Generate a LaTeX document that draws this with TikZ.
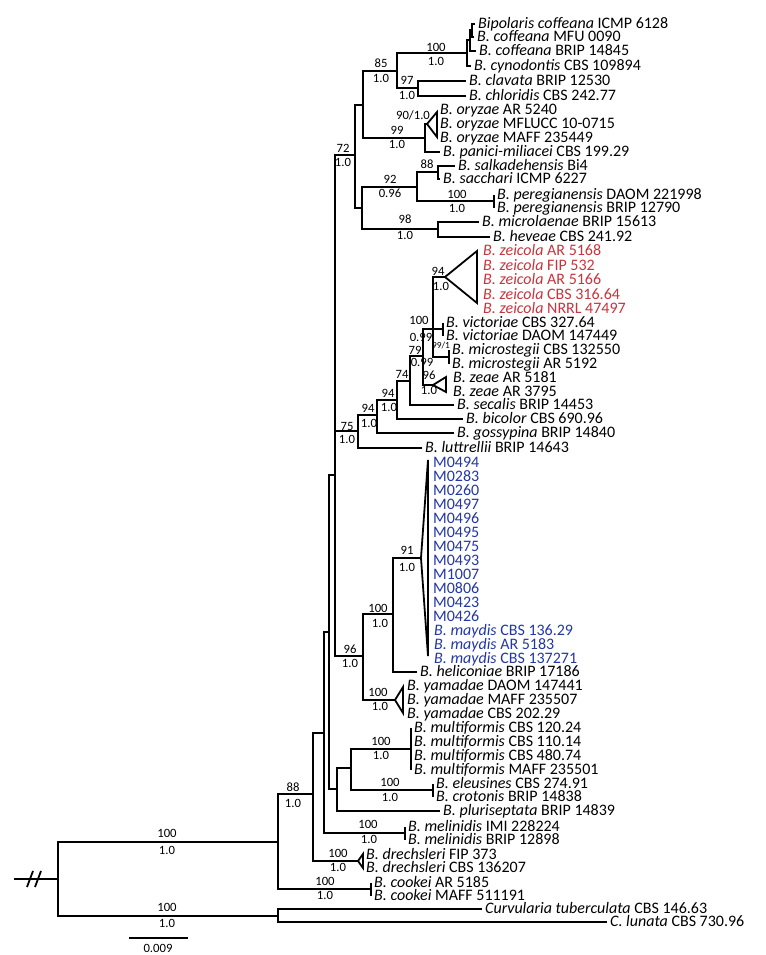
\documentclass[tikz,border=0pt]{standalone}
\usepackage{fontspec}
\setmainfont{Carlito}
\definecolor{zeired}{RGB}{200,52,62}
\definecolor{maydblue}{RGB}{35,55,165}
\tikzset{every picture/.style={line width=0.75pt},
  branch/.style={line width=1.35pt},
  leaf/.style={anchor=west,inner xsep=2pt,inner ysep=0.5pt,text height=7.4pt,text depth=0pt,font=\fontsize{12}{12}\selectfont},
  supp/.style={inner sep=0.5pt,text height=6pt,text depth=0pt,font=\fontsize{9.5}{10}\selectfont},
}

\begin{document}
\begin{tikzpicture}[x=0.75pt,y=0.75pt,yscale=-1,xscale=1]
\useasboundingbox (0,0) rectangle (765,955);

%Internal nodes
\coordinate (nRoot) at (58,879);
\coordinate (nIng) at (278,842);
\coordinate (nOut) at (278,916);
\coordinate (nC) at (313,794);
\coordinate (nD) at (324,733);
\coordinate (nE) at (329,632);
\coordinate (nN) at (335,475);
\coordinate (nF) at (355,155);
\coordinate (nH) at (363,105);
\coordinate (nI) at (397,71);
\coordinate (nJ) at (467,53);
\coordinate (nK) at (470,40);
\coordinate (nL) at (472,30);
\coordinate (nClav) at (418,88);
\coordinate (nM) at (425,138);
\coordinate (nG) at (362,208);
\coordinate (nQ) at (417,187);
\coordinate (nSS) at (438,172);
\coordinate (nPer) at (494,201);
\coordinate (nMH) at (438,229);
\coordinate (nO) at (358,431);
\coordinate (nW) at (377,415);
\coordinate (nX) at (397,400);
\coordinate (nY) at (410,381);
\coordinate (nZ) at (423,356);
\coordinate (nAB) at (433,329);
\coordinate (nVic) at (443,329);
\coordinate (nMs) at (449,357);
\coordinate (nR) at (363,656);
\coordinate (nU) at (393,614);
\coordinate (nP) at (337,789);
\coordinate (nS) at (351,768);
\coordinate (nMult) at (411,749);
\coordinate (nEle) at (433,790);
\coordinate (nMel) at (405,833);
\coordinate (nCoo) at (371,889);
%Collapsed clades
\coordinate (oryApex) at (427,124); \coordinate (oryTop) at (437,112); \coordinate (oryBot) at (437,137);
\coordinate (zeiApex) at (445,277); \coordinate (zeiTop) at (477,251); \coordinate (zeiBot) at (477,303);
\coordinate (zeaApex) at (433,385); \coordinate (zeaTop) at (446,377); \coordinate (zeaBot) at (446,392);
\coordinate (mayApex) at (421,558); \coordinate (mayTop) at (428,460); \coordinate (mayBot) at (428,656);
\coordinate (yamApex) at (395,700); \coordinate (yamTop) at (403,687); \coordinate (yamBot) at (403,713);
\coordinate (dreApex) at (358,861); \coordinate (dreTop) at (363,854); \coordinate (dreBot) at (363,868);
\coordinate (brk) at (14,879);

% Text Node (taxa)
\node[leaf] (coffA) at (475,24) {\textit{Bipolaris coffeana} ICMP 6128};
\node[leaf] (coffB) at (474,37) {\textit{B. coffeana} MFU 0090};
\node[leaf] (coffC) at (476,51) {\textit{B. coffeana} BRIP 14845};
\node[leaf] (cyno) at (471,66) {\textit{B. cynodontis} CBS 109894};
\node[leaf] (clav) at (466,81) {\textit{B. clavata} BRIP 12530};
\node[leaf] (chlo) at (466,96) {\textit{B. chloridis} CBS 242.77};
\foreach \s [count=\k from 0] in {AR 5240,MFLUCC 10-0715,MAFF 235449}
  \node[leaf] (ory\k) at (437,{110+14*\k}) {\textit{B. oryzae} \s};
\node[leaf] (pani) at (440,152) {\textit{B. panici-miliacei} CBS 199.29};
\node[leaf] (salk) at (455,166) {\textit{B. salkadehensis} Bi4};
\node[leaf] (sacc) at (440,179) {\textit{B. sacchari} ICMP 6227};
\node[leaf] (perA) at (494,195) {\textit{B. peregianensis} DAOM 221998};
\node[leaf] (perB) at (494,208) {\textit{B. peregianensis} BRIP 12790};
\node[leaf] (micr) at (479,222) {\textit{B. microlaenae} BRIP 15613};
\node[leaf] (heve) at (490,237) {\textit{B. heveae} CBS 241.92};
\foreach \s [count=\k from 0] in {AR 5168,FIP 532,AR 5166,CBS 316.64,NRRL 47497}
  \node[leaf,text=zeired] (zei\k) at (480,{251+14.5*\k}) {\textit{B. zeicola} \s};
\node[leaf] (vicA) at (443,323) {\textit{B. victoriae} CBS 327.64};
\node[leaf] (vicB) at (443,336) {\textit{B. victoriae} DAOM 147449};
\node[leaf] (msA) at (449,350) {\textit{B. microstegii} CBS 132550};
\node[leaf] (msB) at (449,364) {\textit{B. microstegii} AR 5192};
\node[leaf] (zeaA) at (450,378) {\textit{B. zeae} AR 5181};
\node[leaf] (zeaB) at (450,392) {\textit{B. zeae} AR 3795};
\node[leaf] (seca) at (454,405) {\textit{B. secalis} BRIP 14453};
\node[leaf] (bico) at (463,419) {\textit{B. bicolor} CBS 690.96};
\node[leaf] (goss) at (454,433) {\textit{B. gossypina} BRIP 14840};
\node[leaf] (lutt) at (422,448) {\textit{B. luttrellii} BRIP 14643};
\foreach \m [count=\k from 0] in {M0494,M0283,M0260,M0497,M0496,M0495,M0475,M0493,M1007,M0806,M0423,M0426}
  \node[leaf,text=maydblue] (m\m) at (430,{463+14*\k}) {\m};
\foreach \s [count=\k from 0] in {CBS 136.29,AR 5183,CBS 137271}
  \node[leaf,text=maydblue] (may\k) at (431,{631+14*\k}) {\textit{B. maydis} \s};
\node[leaf] (heli) at (417,672) {\textit{B. heliconiae} BRIP 17186};
\foreach \s [count=\k from 0] in {DAOM 147441,MAFF 235507,CBS 202.29}
  \node[leaf] (yam\k) at (404,{686+14*\k}) {\textit{B. yamadae} \s};
\foreach \s [count=\k from 0] in {CBS 120.24,CBS 110.14,CBS 480.74,MAFF 235501}
  \node[leaf] (mult\k) at (411,{728+14*\k}) {\textit{B. multiformis} \s};
\node[leaf] (eleu) at (433,784) {\textit{B. eleusines} CBS 274.91};
\node[leaf] (crot) at (433,797) {\textit{B. crotonis} BRIP 14838};
\node[leaf] (plur) at (440,811) {\textit{B. pluriseptata} BRIP 14839};
\node[leaf] (melA) at (405,827) {\textit{B. melinidis} IMI 228224};
\node[leaf] (melB) at (405,840) {\textit{B. melinidis} BRIP 12898};
\node[leaf] (dreA) at (363,855) {\textit{B. drechsleri} FIP 373};
\node[leaf] (dreB) at (363,868) {\textit{B. drechsleri} CBS 136207};
\node[leaf] (cooA) at (371,883) {\textit{B. cookei} AR 5185};
\node[leaf] (cooB) at (371,896) {\textit{B. cookei} MAFF 511191};
\node[leaf] (curv) at (482,909) {\textit{Curvularia tuberculata} CBS 146.63};
\node[leaf] (luna) at (607,922) {\textit{C. lunata} CBS 730.96};

%Branches
\draw[branch] (brk) -- (nRoot);
\draw[branch] (27,887) -- (33,871) (35,887) -- (41,871);
\draw[branch] (nRoot) |- (nIng) (nRoot) |- (nOut);
\draw[branch] (nOut) |- (curv.west) (nOut) |- (luna.west);
\draw[branch] (nIng) |- (nC) (nIng) |- (nCoo);
\draw[branch] (nCoo) |- (cooA.west) (nCoo) |- (cooB.west);
\draw[branch] (nC) |- (nD) (nC) |- (dreApex);
\draw[branch] (nD) |- (nE) (nD) |- (nMel);
\draw[branch] (nMel) |- (melA.west) (nMel) |- (melB.west);
\draw[branch] (nE) |- (nN) (nE) |- (nP);
\draw[branch] (nP) |- (nS) (nP) |- (plur.west);
\draw[branch] (nS) |- (nMult) (nS) |- (nEle);
\foreach \k in {0,...,3} \draw[branch] (nMult) |- (mult\k.west);
\draw[branch] (nEle) |- (eleu.west) (nEle) |- (crot.west);
\draw[branch] (nN) |- (nF) (nN) |- (nO) (nN) |- (nR);
%72 clade
\draw[branch] (nF) |- (nH) (nF) |- (nG);
\draw[branch] (nH) |- (nI) (nH) |- (nM);
\draw[branch] (nI) |- (nJ) (nI) |- (nClav);
\draw[branch] (nJ) |- (nK) (nJ) |- (cyno.west);
\draw[branch] (nK) |- (nL) (nK) |- (coffC.west);
\draw[branch] (nL) |- (coffA.west) (nL) |- (coffB.west);
\draw[branch] (nClav) |- (clav.west) (nClav) |- (chlo.west);
\draw[branch] (nM) |- (oryApex) (nM) |- (pani.west);
\draw[branch] (nG) |- (nQ) (nG) |- (nMH);
\draw[branch] (nQ) |- (nSS) (nQ) |- (nPer);
\draw[branch] (nSS) |- (salk.west) (nSS) |- (sacc.west);
\draw[branch] (nPer) |- (perA.west) (nPer) |- (perB.west);
\draw[branch] (nMH) |- (micr.west) (nMH) |- (heve.west);
%75 clade
\draw[branch] (nO) |- (nW) (nO) |- (lutt.west);
\draw[branch] (nW) |- (nX) (nW) |- (goss.west);
\draw[branch] (nX) |- (nY) (nX) |- (bico.west);
\draw[branch] (nY) |- (nZ) (nY) |- (seca.west);
\draw[branch] (nZ) |- (nVic) (nZ) |- (zeaApex);
\draw[branch] (nAB) |- (zeiApex) (nAB) |- (nMs);
\draw[branch] (nVic) |- (vicA.west) (nVic) |- (vicB.west);
\draw[branch] (nMs) |- (msA.west) (nMs) |- (msB.west);
%96 clade
\draw[branch] (nR) |- (nU) (nR) |- (yamApex);
\draw[branch] (nU) |- (mayApex) (nU) |- (heli.west);
%Triangles
\foreach \t in {ory,zei,zea,may,yam,dre}
  \draw[branch,line join=miter] (\t Apex) -- (\t Top) -- (\t Bot) -- cycle;

% Text Node (support values)
\node[supp] (s1) at (167,833) {100}; \node[supp] (s2) at (167,850) {1.0};
\node[supp] (s3) at (167,907) {100}; \node[supp] (s4) at (167,923) {1.0};
\node[supp] (s5) at (293,787) {88}; \node[supp] (s6) at (293,803) {1.0};
\node[supp] (s7) at (325,881) {100}; \node[supp] (s8) at (325,895) {1.0};
\node[supp] (s9) at (338,853) {100}; \node[supp] (s10) at (338,867) {1.0};
\node[supp] (s11) at (368,824) {100}; \node[supp] (s12) at (369,839) {1.0};
\node[supp] (s13) at (390,782) {100}; \node[supp] (s14) at (390,797) {1.0};
\node[supp] (s15) at (381,741) {100}; \node[supp] (s16) at (381,755) {1.0};
\node[supp] (s17) at (378,692) {100}; \node[supp] (s18) at (380,706) {1.0};
\node[supp] (s19) at (350,649) {96}; \node[supp] (s20) at (350,663) {1.0};
\node[supp] (s21) at (378,608) {100}; \node[supp] (s22) at (380,623) {1.0};
\node[supp] (s23) at (407,550) {91}; \node[supp] (s24) at (407,567) {1.0};
\node[supp] (s25) at (347,426) {75}; \node[supp] (s26) at (347,439) {1.0};
\node[supp] (s27) at (368,408) {94}; \node[supp] (s28) at (369,423) {1.0};
\node[supp] (s29) at (388,393) {94}; \node[supp] (s30) at (389,407) {1.0};
\node[supp] (s31) at (402,374) {74};
\node[supp] (s32) at (429,375) {96}; \node[supp] (s33) at (429,390) {1.0};
\node[supp] (s34) at (415,350) {79}; \node[supp] (s35) at (422,362) {0.99};
\node[supp,font=\fontsize{7}{8}\selectfont] (s36) at (441,344) {99/1};
\node[supp] (s37) at (419,320) {100}; \node[supp] (s38) at (421,337) {0.99};
\node[supp] (s39) at (438,272) {94}; \node[supp] (s40) at (441,287) {1.0};
\node[supp] (s41) at (405,220) {98}; \node[supp] (s42) at (405,236) {1.0};
\node[supp] (s43) at (457,195) {100}; \node[supp] (s44) at (457,209) {1.0};
\node[supp] (s45) at (390,180) {92}; \node[supp] (s46) at (390,194) {0.96};
\node[supp] (s47) at (427,165) {88};
\node[supp] (s48) at (343,149) {72}; \node[supp] (s49) at (343,163) {1.0};
\node[supp] (s50) at (397,131) {99}; \node[supp] (s51) at (397,145) {1.0};
\node[supp] (s52) at (413,116) {90/1.0};
\node[supp] (s53) at (407,81) {97}; \node[supp] (s54) at (407,96) {1.0};
\node[supp] (s55) at (381,64) {85}; \node[supp] (s56) at (381,79) {1.0};
\node[supp] (s57) at (436,48) {100}; \node[supp] (s58) at (436,62) {1.0};

%Scale bar
\coordinate (barL) at (129,938); \coordinate (barR) at (188,938);
\draw[branch] (barL) -- (barR);
\node[supp] (barlab) at (158,948) {0.009};

\end{tikzpicture}
\end{document}
